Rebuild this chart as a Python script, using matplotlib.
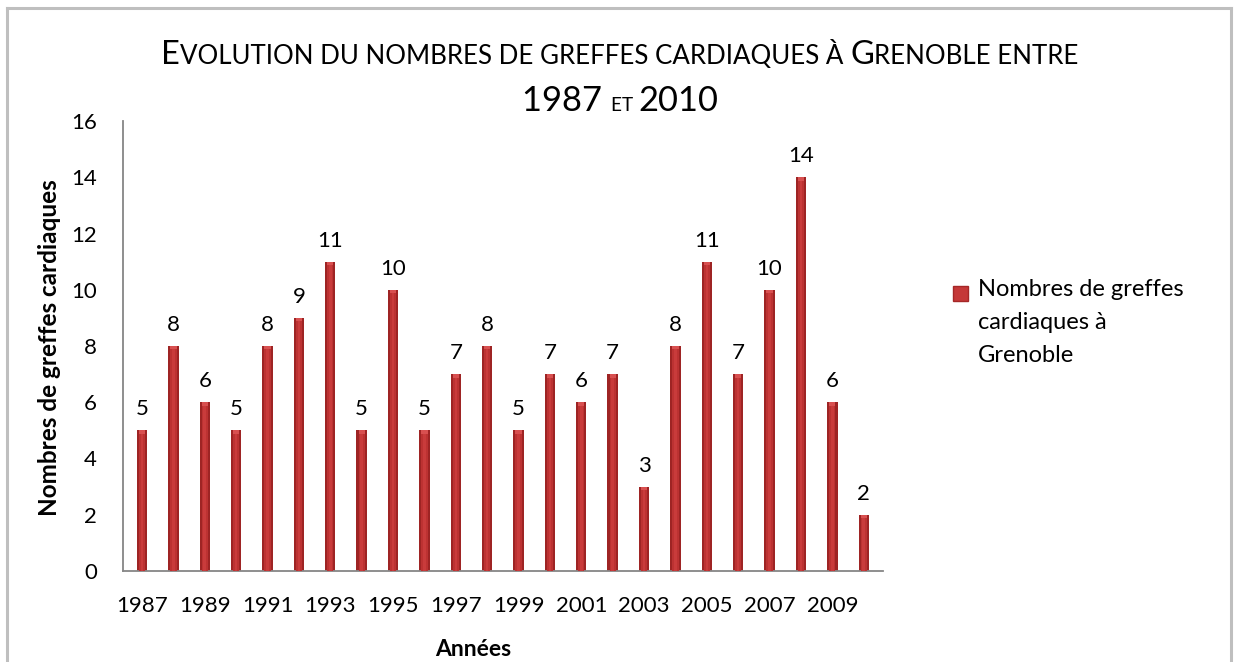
import matplotlib
matplotlib.use("Agg")
import matplotlib.pyplot as plt
from matplotlib.patches import Rectangle
from matplotlib.lines import Line2D

years = list(range(1987, 2011))
values = [5, 8, 6, 5, 8, 9, 11, 5, 10, 5, 7, 8, 5, 7, 6, 7, 3, 8, 11, 7, 10, 14, 6, 2]
tick_years = [str(y) for y in range(1987, 2010, 2)]
y_ticks = [0, 2, 4, 6, 8, 10, 12, 14, 16]
series_name = "Nombres de greffes\ncardiaques à\nGrenoble"
y_label = "Nombres de greffes cardiaques"
x_label = "Années"
title_line1 = [("E", 1.0), ("VOLUTION DU NOMBRES DE GREFFES CARDIAQUES À ", 0.79), ("G", 1.0), ("RENOBLE ENTRE", 0.79)]
title_line2 = [("1987 ", 1.0), ("ET ", 0.55), ("2010", 1.0)]

plt.rcParams['font.family'] = ['Lato', 'DejaVu Sans']

W, H = 1236, 662
fig = plt.figure(figsize=(W / 100, H / 100), dpi=100)
fig.patch.set_facecolor("white")

# chart border
for xs, ys in [((7 / W, 7 / W), (0, 1 - 8 / H)), ((1 - 5 / W, 1 - 5 / W), (0, 1 - 8 / H)),
               ((7 / W, 1 - 5 / W), (1 - 8 / H, 1 - 8 / H))]:
    fig.add_artist(Line2D(xs, ys, color="#BFBFBF", lw=2.2, transform=fig.transFigure))

ax = fig.add_axes([122.7 / W, 1 - 571 / H, (883 - 122.7) / W, (571 - 121) / H])
x = list(range(len(years)))
ax.bar(x, values, width=0.33, color="#9E2424", zorder=2)
ax.bar(x, values, width=0.2, color="#BC3232", zorder=3)
ax.bar(x, values, width=0.08, color="#C93B3B", zorder=3)
ax.bar(x, [min(v, 0.12) for v in values], bottom=[v - 0.12 for v in values], width=0.2,
       color="#D85050", zorder=4)
for xi, v in zip(x, values):
    ax.annotate(str(v), (xi, v), xytext=(0, 8), textcoords="offset points",
                ha="center", va="bottom", fontsize=16, color="black")

ax.set_xlim(-0.615, len(years) - 1 + 0.615)
ax.set_ylim(0, 16)
ax.set_yticks(y_ticks)
ax.set_yticklabels([str(t) for t in y_ticks], fontsize=16)
ax.set_xticks(x[::2])
ax.set_xticklabels(tick_years, fontsize=16)
ax.tick_params(axis="x", length=0, pad=18)
ax.tick_params(axis="y", length=0, pad=18.5)
for s in ["top", "right"]:
    ax.spines[s].set_visible(False)
for s in ["left", "bottom"]:
    ax.spines[s].set_color("#868686")
    ax.spines[s].set_linewidth(1.3)

fig.text(50 / W, 1 - 348 / H, y_label, rotation=90, ha="center", va="center",
         fontsize=17.5, fontweight="bold")
fig.text(473 / W, 1 - 649 / H, x_label, ha="center", va="center", fontsize=16.5, fontweight="bold")

# legend
fig.add_artist(Rectangle((953 / W, 1 - 301 / H), 15 / W, 15 / H, transform=fig.transFigure,
                         facecolor="#C53838", edgecolor="#A52727", lw=1))
fig.text(978 / W, 1 - 279 / H, series_name, ha="left", va="top", fontsize=17, linespacing=1.72)

# small caps title
renderer = fig.canvas.get_renderer()

def draw_line(pieces, base_size, baseline_y, center_x, target_w=None):
    texts = []
    for s, r in pieces:
        t = fig.text(0, baseline_y / H, s, fontsize=base_size * r, ha="left", va="baseline")
        texts.append(t)
    widths = [t.get_window_extent(renderer).width for t in texts]
    if target_w is not None:
        k = target_w / sum(widths)
        for t, (s, r) in zip(texts, pieces):
            t.set_fontsize(base_size * r * k)
        widths = [t.get_window_extent(renderer).width for t in texts]
    total = sum(widths)
    cx = center_x - total / 2
    for t, w in zip(texts, widths):
        t.set_x(cx / W)
        cx += w
    return texts

draw_line(title_line1, 24, H - 64, 620, target_w=914)
draw_line(title_line2, 24, H - 111, 620, target_w=196)

fig.savefig("out.png", dpi=100)
